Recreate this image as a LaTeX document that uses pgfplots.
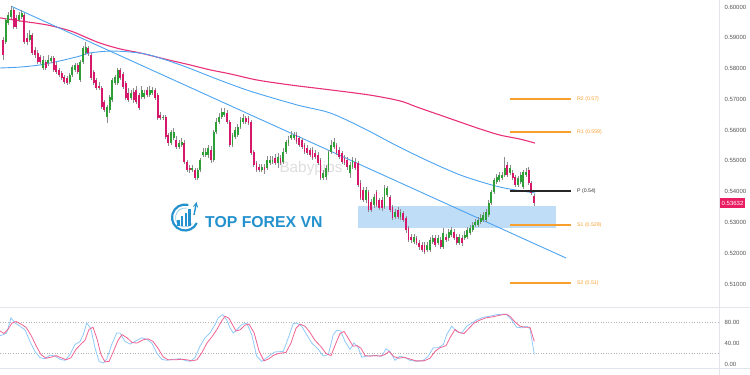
\documentclass[border=0pt]{standalone}
\usepackage{pgfplots}
\pgfplotsset{compat=1.18}
\usepackage{pgfplotstable}
\usepackage{fontspec}
\setmainfont{Liberation Sans}
\definecolor{cgreen}{HTML}{2E9E36}
\definecolor{cred}{HTML}{D6186A}
\definecolor{wick}{HTML}{8C8C8C}
\definecolor{mapink}{HTML}{E8317A}
\definecolor{mablue}{HTML}{4DA3F0}
\definecolor{boxblue}{HTML}{BFDDF7}
\definecolor{pivor}{HTML}{F7A030}
\definecolor{stk}{HTML}{90CAF9}
\definecolor{std}{HTML}{F06292}
\definecolor{lblgray}{HTML}{555555}
\definecolor{sepgray}{HTML}{E3E5EA}
\definecolor{logoblue}{HTML}{2391CD}
\definecolor{pricepink}{HTML}{E91E63}

\pgfplotstableread{
i o h l c
0 0.5893 0.5903 0.5828 0.5844
1 0.5887 0.5965 0.5880 0.5958
2 0.5948 0.5984 0.5942 0.5974
3 0.5968 0.6004 0.5961 0.5991
4 0.5991 0.5997 0.5929 0.5935
5 0.5965 0.5974 0.5929 0.5935
6 0.5958 0.5984 0.5952 0.5974
7 0.5968 0.5991 0.5961 0.5981
8 0.5974 0.5981 0.5880 0.5887
9 0.5900 0.5916 0.5877 0.5887
10 0.5893 0.5926 0.5887 0.5909
11 0.5909 0.5916 0.5844 0.5851
12 0.5861 0.5870 0.5835 0.5844
13 0.5851 0.5861 0.5815 0.5822
14 0.5838 0.5844 0.5815 0.5822
15 0.5802 0.5841 0.5796 0.5828
16 0.5822 0.5828 0.5796 0.5802
17 0.5818 0.5844 0.5809 0.5828
18 0.5825 0.5841 0.5818 0.5835
19 0.5835 0.5841 0.5789 0.5796
20 0.5812 0.5822 0.5783 0.5789
21 0.5796 0.5802 0.5773 0.5779
22 0.5786 0.5792 0.5763 0.5770
23 0.5773 0.5779 0.5750 0.5757
24 0.5770 0.5776 0.5747 0.5753
25 0.5757 0.5786 0.5750 0.5779
26 0.5779 0.5812 0.5773 0.5805
27 0.5796 0.5818 0.5789 0.5812
28 0.5812 0.5818 0.5783 0.5789
29 0.5763 0.5828 0.5757 0.5822
30 0.5822 0.5874 0.5815 0.5867
31 0.5851 0.5887 0.5844 0.5870
32 0.5867 0.5874 0.5841 0.5851
33 0.5844 0.5851 0.5763 0.5770
34 0.5789 0.5796 0.5747 0.5753
35 0.5763 0.5770 0.5731 0.5737
36 0.5744 0.5757 0.5731 0.5737
37 0.5737 0.5744 0.5669 0.5675
38 0.5692 0.5698 0.5659 0.5666
39 0.5643 0.5682 0.5623 0.5675
40 0.5666 0.5714 0.5656 0.5708
41 0.5698 0.5770 0.5692 0.5763
42 0.5753 0.5779 0.5747 0.5773
43 0.5753 0.5802 0.5747 0.5796
44 0.5796 0.5802 0.5763 0.5770
45 0.5783 0.5789 0.5734 0.5740
46 0.5753 0.5760 0.5698 0.5705
47 0.5721 0.5737 0.5692 0.5698
48 0.5705 0.5731 0.5698 0.5721
49 0.5724 0.5737 0.5688 0.5698
50 0.5731 0.5744 0.5685 0.5692
51 0.5714 0.5721 0.5666 0.5672
52 0.5708 0.5744 0.5701 0.5731
53 0.5708 0.5731 0.5701 0.5721
54 0.5731 0.5740 0.5708 0.5714
55 0.5714 0.5744 0.5708 0.5731
56 0.5721 0.5740 0.5714 0.5731
57 0.5731 0.5737 0.5698 0.5705
58 0.5714 0.5721 0.5633 0.5640
59 0.5649 0.5659 0.5633 0.5640
60 0.5640 0.5649 0.5633 0.5643
61 0.5643 0.5649 0.5571 0.5578
62 0.5584 0.5591 0.5549 0.5558
63 0.5558 0.5601 0.5552 0.5594
64 0.5575 0.5607 0.5568 0.5594
65 0.5568 0.5581 0.5539 0.5545
66 0.5545 0.5568 0.5539 0.5558
67 0.5552 0.5575 0.5545 0.5562
68 0.5558 0.5568 0.5490 0.5497
69 0.5497 0.5503 0.5464 0.5471
70 0.5477 0.5487 0.5461 0.5471
71 0.5471 0.5487 0.5464 0.5477
72 0.5471 0.5477 0.5438 0.5445
73 0.5445 0.5477 0.5438 0.5471
74 0.5471 0.5510 0.5464 0.5503
75 0.5519 0.5542 0.5513 0.5529
76 0.5519 0.5542 0.5513 0.5529
77 0.5519 0.5552 0.5510 0.5542
78 0.5536 0.5549 0.5493 0.5503
79 0.5503 0.5601 0.5497 0.5594
80 0.5594 0.5640 0.5588 0.5627
81 0.5627 0.5656 0.5620 0.5643
82 0.5643 0.5672 0.5636 0.5659
83 0.5649 0.5672 0.5643 0.5659
84 0.5656 0.5666 0.5620 0.5627
85 0.5627 0.5633 0.5545 0.5552
86 0.5552 0.5591 0.5545 0.5584
87 0.5578 0.5610 0.5571 0.5601
88 0.5584 0.5620 0.5578 0.5610
89 0.5610 0.5643 0.5604 0.5633
90 0.5627 0.5653 0.5620 0.5640
91 0.5640 0.5646 0.5620 0.5627
92 0.5640 0.5646 0.5617 0.5623
93 0.5627 0.5633 0.5519 0.5526
94 0.5529 0.5536 0.5480 0.5487
95 0.5493 0.5500 0.5464 0.5471
96 0.5480 0.5490 0.5464 0.5471
97 0.5471 0.5490 0.5464 0.5480
98 0.5480 0.5490 0.5458 0.5471
99 0.5477 0.5516 0.5471 0.5503
100 0.5493 0.5516 0.5487 0.5503
101 0.5497 0.5516 0.5490 0.5503
102 0.5510 0.5523 0.5487 0.5493
103 0.5493 0.5526 0.5477 0.5513
104 0.5510 0.5519 0.5487 0.5493
105 0.5497 0.5542 0.5490 0.5529
106 0.5529 0.5568 0.5523 0.5562
107 0.5558 0.5581 0.5549 0.5568
108 0.5575 0.5597 0.5568 0.5584
109 0.5575 0.5594 0.5568 0.5584
110 0.5584 0.5594 0.5555 0.5562
111 0.5575 0.5581 0.5545 0.5552
112 0.5568 0.5575 0.5539 0.5545
113 0.5552 0.5558 0.5523 0.5529
114 0.5542 0.5552 0.5519 0.5526
115 0.5536 0.5542 0.5513 0.5519
116 0.5536 0.5545 0.5503 0.5510
117 0.5526 0.5536 0.5506 0.5513
118 0.5519 0.5529 0.5487 0.5493
119 0.5503 0.5510 0.5438 0.5445
120 0.5445 0.5471 0.5438 0.5461
121 0.5448 0.5487 0.5438 0.5477
122 0.5471 0.5536 0.5464 0.5529
123 0.5529 0.5568 0.5523 0.5552
124 0.5545 0.5575 0.5539 0.5562
125 0.5552 0.5558 0.5519 0.5526
126 0.5536 0.5545 0.5506 0.5513
127 0.5526 0.5532 0.5490 0.5497
128 0.5510 0.5519 0.5487 0.5493
129 0.5503 0.5513 0.5471 0.5480
130 0.5461 0.5497 0.5445 0.5487
131 0.5480 0.5513 0.5474 0.5503
132 0.5497 0.5510 0.5471 0.5477
133 0.5493 0.5500 0.5415 0.5422
134 0.5428 0.5438 0.5373 0.5380
135 0.5406 0.5415 0.5367 0.5373
136 0.5373 0.5415 0.5363 0.5406
137 0.5399 0.5406 0.5334 0.5341
138 0.5367 0.5376 0.5334 0.5341
139 0.5357 0.5393 0.5347 0.5383
140 0.5399 0.5406 0.5350 0.5357
141 0.5373 0.5380 0.5341 0.5347
142 0.5373 0.5383 0.5337 0.5347
143 0.5350 0.5422 0.5344 0.5412
144 0.5389 0.5419 0.5383 0.5412
145 0.5383 0.5389 0.5334 0.5341
146 0.5350 0.5357 0.5308 0.5315
147 0.5318 0.5344 0.5311 0.5334
148 0.5341 0.5350 0.5311 0.5318
149 0.5318 0.5344 0.5308 0.5334
150 0.5331 0.5337 0.5302 0.5308
151 0.5315 0.5321 0.5266 0.5276
152 0.5282 0.5289 0.5237 0.5243
153 0.5253 0.5263 0.5233 0.5243
154 0.5237 0.5263 0.5230 0.5253
155 0.5250 0.5256 0.5227 0.5233
156 0.5233 0.5243 0.5211 0.5220
157 0.5227 0.5237 0.5204 0.5211
158 0.5227 0.5237 0.5198 0.5204
159 0.5211 0.5237 0.5204 0.5227
160 0.5211 0.5253 0.5204 0.5243
161 0.5237 0.5259 0.5230 0.5250
162 0.5250 0.5259 0.5220 0.5227
163 0.5233 0.5259 0.5227 0.5250
164 0.5243 0.5253 0.5214 0.5220
165 0.5220 0.5282 0.5214 0.5266
166 0.5253 0.5263 0.5237 0.5243
167 0.5250 0.5279 0.5240 0.5269
168 0.5259 0.5285 0.5253 0.5276
169 0.5269 0.5279 0.5243 0.5250
170 0.5253 0.5263 0.5227 0.5233
171 0.5233 0.5263 0.5227 0.5253
172 0.5250 0.5259 0.5224 0.5233
173 0.5250 0.5272 0.5243 0.5259
174 0.5253 0.5285 0.5246 0.5276
175 0.5266 0.5292 0.5259 0.5282
176 0.5276 0.5302 0.5269 0.5292
177 0.5292 0.5311 0.5285 0.5302
178 0.5292 0.5318 0.5285 0.5308
179 0.5302 0.5328 0.5295 0.5315
180 0.5308 0.5334 0.5302 0.5324
181 0.5308 0.5344 0.5302 0.5334
182 0.5324 0.5373 0.5318 0.5363
183 0.5363 0.5406 0.5357 0.5399
184 0.5399 0.5445 0.5393 0.5438
185 0.5432 0.5458 0.5425 0.5448
186 0.5438 0.5464 0.5432 0.5454
187 0.5445 0.5464 0.5438 0.5454
188 0.5454 0.5513 0.5448 0.5477
189 0.5487 0.5497 0.5448 0.5454
190 0.5461 0.5487 0.5454 0.5477
191 0.5461 0.5471 0.5438 0.5445
192 0.5448 0.5454 0.5415 0.5422
193 0.5422 0.5451 0.5415 0.5445
194 0.5432 0.5464 0.5425 0.5454
195 0.5415 0.5471 0.5409 0.5464
196 0.5454 0.5477 0.5448 0.5464
197 0.5471 0.5480 0.5422 0.5428
198 0.5428 0.5435 0.5389 0.5396
199 0.5386 0.5393 0.5354 0.53632
}\candles

\begin{document}
\begin{tikzpicture}
\path[use as bounding box] (0pt,0pt) rectangle (750pt,375pt);

% ---------------- main price panel ----------------
\begin{axis}[
  at={(0pt,68pt)}, anchor=south west,
  width=719pt, height=307pt, scale only axis,
  xmin=0, xmax=719, ymin=0.50253, ymax=0.6023,
  axis line style={draw=none},
  xtick=\empty,
  ytick={0.51,0.52,0.53,0.54,0.55,0.56,0.57,0.58,0.59,0.60},
  yticklabels={0.51000,0.52000,0.53000,0.54000,0.55000,0.56000,0.57000,0.58000,0.59000,0.60000},
  yticklabel pos=right,
  major tick length=0pt,
  yticklabel style={font=\fontsize{6}{7}\selectfont, text=lblgray, anchor=west, xshift=2pt},
  clip=false,
]
% watermark
\node[font=\fontsize{15.3}{16}\selectfont, text=black!13] at (axis cs:311,0.5474) {Babypips};
% zone box
\addplot[fill=boxblue, draw=none, forget plot] coordinates {(358,0.5282) (556,0.5282) (556,0.5354) (358,0.5354)} -- cycle;
% moving averages
\addplot[mapink, line width=1.1pt, smooth, forget plot] coordinates {
(0,0.5965) (20,0.5955) (47,0.5942) (70,0.5923) (85,0.5903) (100,0.5883) (120,0.5864) (140,0.5851) (165,0.5831) (190,0.5812) (210,0.5796) (230,0.5783) (257,0.5763) (290,0.5747) (330,0.5731) (370,0.5714) (400,0.5695) (417,0.5675) (440,0.5649) (463,0.5623) (480,0.5604) (500,0.5584) (520,0.5571) (535,0.5558)};
\addplot[mablue, line width=0.9pt, smooth, forget plot] coordinates {
(0,0.5802) (20,0.5805) (40,0.5812) (60,0.5825) (80,0.5841) (90,0.5851) (110,0.5857) (130,0.5854) (150,0.5844) (183,0.5809) (217,0.5766) (250,0.5727) (297,0.5682) (330,0.5656) (363,0.5607) (397,0.5549) (430,0.5497) (463,0.5451) (500,0.5415) (535,0.5396)};
% trend line
\addplot[mablue, line width=0.9pt, forget plot] coordinates {(11,0.6003) (566,0.51845)};
% candles: wicks
\addplot[draw=none, mark=none, forget plot,
  error bars/.cd, y dir=plus, y explicit, error mark=none,
  error bar style={draw=wick, line width=0.6pt}]
  table[x expr=3+2.668*\thisrow{i}, y=l, y error plus expr=\thisrow{h}-\thisrow{l}] {\candles};
% green bodies
\addplot[draw=none, mark=none, forget plot,
  restrict expr to domain={\thisrow{c}-\thisrow{o}}{0:1},
  error bars/.cd, y dir=plus, y explicit, error mark=none,
  error bar style={draw=cgreen, line width=1.9pt}]
  table[x expr=3+2.668*\thisrow{i}, y=o, y error plus expr=\thisrow{c}-\thisrow{o}] {\candles};
% red bodies
\addplot[draw=none, mark=none, forget plot,
  restrict expr to domain={\thisrow{o}-\thisrow{c}}{0:1},
  error bars/.cd, y dir=plus, y explicit, error mark=none,
  error bar style={draw=cred, line width=1.9pt}]
  table[x expr=3+2.668*\thisrow{i}, y=c, y error plus expr=\thisrow{o}-\thisrow{c}] {\candles};
% pivot levels
\addplot[pivor, line width=1.6pt, forget plot] coordinates {(510,0.5701) (571,0.5701)};
\addplot[pivor, line width=1.6pt, forget plot] coordinates {(510,0.5594) (571,0.5594)};
\addplot[black!85, line width=1.4pt, forget plot] coordinates {(510,0.5402) (571,0.5402)};
\addplot[pivor, line width=1.6pt, forget plot] coordinates {(510,0.5292) (571,0.5292)};
\addplot[pivor, line width=1.6pt, forget plot] coordinates {(510,0.5103) (571,0.5103)};
\begin{scope}[every node/.style={anchor=west, inner sep=0pt, font=\fontsize{5.2}{6}\selectfont}]
\node[text=pivor] at (axis cs:577,0.5701) {R2 (0.57)};
\node[text=pivor] at (axis cs:577,0.5594) {R1 (0.559)};
\node[text=black!80] at (axis cs:577,0.5402) {P (0.54)};
\node[text=pivor] at (axis cs:577,0.5292) {S1 (0.529)};
\node[text=pivor] at (axis cs:577,0.5103) {S2 (0.51)};
\end{scope}
% last price tag
\node[anchor=west, fill=pricepink, text=white, inner xsep=2pt, inner ysep=0pt, minimum height=10.5pt,
  font=\fontsize{6}{7}\selectfont] at (axis cs:719.5,0.53632) {0.53632};
\end{axis}

% ---------------- stochastic panel ----------------
\begin{axis}[
  at={(0pt,7pt)}, anchor=south west,
  width=719pt, height=61pt, scale only axis,
  xmin=0, xmax=719, ymin=-7.6, ymax=108.6,
  axis line style={draw=none},
  xtick=\empty,
  ytick={0,40,80}, yticklabels={0.00,40.00,80.00},
  yticklabel pos=right,
  major tick length=0pt,
  yticklabel style={font=\fontsize{6}{7}\selectfont, text=lblgray, anchor=west, xshift=2pt},
]
\addplot[black!30, line width=0.6pt, dash pattern=on 1pt off 1.6pt, forget plot] coordinates {(0,80) (719,80)};
\addplot[black!30, line width=0.6pt, dash pattern=on 1pt off 1.6pt, forget plot] coordinates {(0,20) (719,20)};
\addplot[stk, line width=0.8pt, forget plot] coordinates {
(0,54) (3.3,56) (6.7,59) (11,88) (15,78) (20,72) (25,65) (30,43) (35,24) (40,12) (45,10) (50,17) (55,15) (60,9) (65,7) (70,18) (75,37) (80,43) (83.3,56) (86.7,78) (90.7,68) (95,31) (99,5) (103.3,2) (106.7,9) (111.7,37) (116.7,59) (120,59) (125,43) (130,38) (135,43) (141.7,50) (146.7,47) (151.7,40) (156.7,21) (161.7,9) (166.7,7) (173.3,9) (180,10) (185,7) (190,5) (195,12) (200,34) (205,50) (210,59) (215,75) (218.3,88) (222.7,94) (226.7,84) (230,69) (233.3,59) (236.7,65) (241.7,75) (246.7,78) (251.7,56) (256.7,15) (261.7,5) (266.7,12) (270,17) (275,23) (283.3,24) (288.3,50) (293.3,77) (296.7,78) (301.7,72) (306.7,56) (311.7,40) (318.3,28) (323.3,15) (328.3,18) (333.3,56) (336.7,64) (340.7,63) (345,43) (350,28) (354,40) (358.3,31) (361.7,13) (366.7,15) (371.7,16) (376.7,16) (381.7,15) (386,29) (390,24) (395,7) (400,15) (405,12) (410,7) (416.7,5) (423.3,7) (428.3,15) (433.3,31) (438.3,31) (443.3,37) (446.7,56) (451.7,72) (456.7,62) (461.7,59) (466.7,72) (471.7,78) (476.7,84) (483.3,89) (490,91) (496.7,94) (503.3,95) (506.7,94) (511.7,84) (516.7,70) (521.7,69) (526.7,72) (530,67) (534.3,18)};
\addplot[std, line width=0.8pt, forget plot] coordinates {
(0,63) (4,58) (8,66) (12,78) (16,81) (21,76) (26,70) (31,55) (36,35) (41,18) (46,11) (51,13) (56,16) (61,12) (66,8) (71,12) (76,28) (81,38) (85,45) (89,66) (93,70) (97,48) (101,18) (105,4) (109,5) (113,22) (118,45) (122,56) (127,50) (132,41) (137,40) (143,46) (148,48) (153,43) (158,30) (163,14) (168,8) (175,8) (182,9) (187,8) (192,6) (197,8) (202,22) (207,40) (212,52) (217,66) (221,80) (225,91) (229,87) (233,73) (236,63) (240,65) (245,74) (249,76) (254,60) (259,25) (264,6) (269,10) (273,16) (278,20) (286,22) (291,40) (296,68) (300,76) (305,72) (310,60) (315,45) (321,33) (326,20) (331,16) (336,40) (340,58) (344,62) (348,50) (353,34) (357,35) (361,30) (365,16) (370,15) (375,16) (380,15) (385,18) (389,24) (394,14) (399,11) (404,13) (409,10) (416,6) (424,6) (430,11) (435,24) (440,31) (446,35) (450,50) (455,66) (459,60) (464,58) (469,68) (474,78) (479,83) (486,88) (493,90) (500,93) (506,95) (510,91) (515,80) (520,72) (525,70) (530,70) (534.3,43)};
\end{axis}

% separators
\draw[sepgray, line width=0.7pt] (719pt,0pt) -- (719pt,375pt);
\draw[sepgray, line width=0.7pt] (0pt,68pt) -- (750pt,68pt);
\draw[sepgray, line width=0.7pt] (0pt,6.5pt) -- (750pt,6.5pt);

% logo
\draw[logoblue, line width=2.2pt] (185pt,157.5pt) ++(75:13pt) arc[start angle=75, end angle=335, radius=13pt];
\draw[logoblue!45, line width=0.8pt] (185pt,157.5pt) ++(80:9.5pt) arc[start angle=80, end angle=320, radius=9.5pt];
\fill[logoblue] (177pt,149pt) rectangle (179.6pt,155pt);
\fill[logoblue] (180.8pt,149pt) rectangle (183.4pt,158.5pt);
\fill[logoblue] (184.6pt,149pt) rectangle (187.2pt,162pt);
\fill[logoblue] (188.4pt,149pt) rectangle (191pt,165.5pt);
\draw[logoblue, line width=1.4pt, -stealth] (194pt,160pt) -- (196.5pt,173pt);
\node[anchor=west, inner sep=0pt, text=logoblue, font=\fontsize{15.8}{16}\selectfont\bfseries] at (205pt,153pt) {TOP FOREX VN};
\end{tikzpicture}
\end{document}
